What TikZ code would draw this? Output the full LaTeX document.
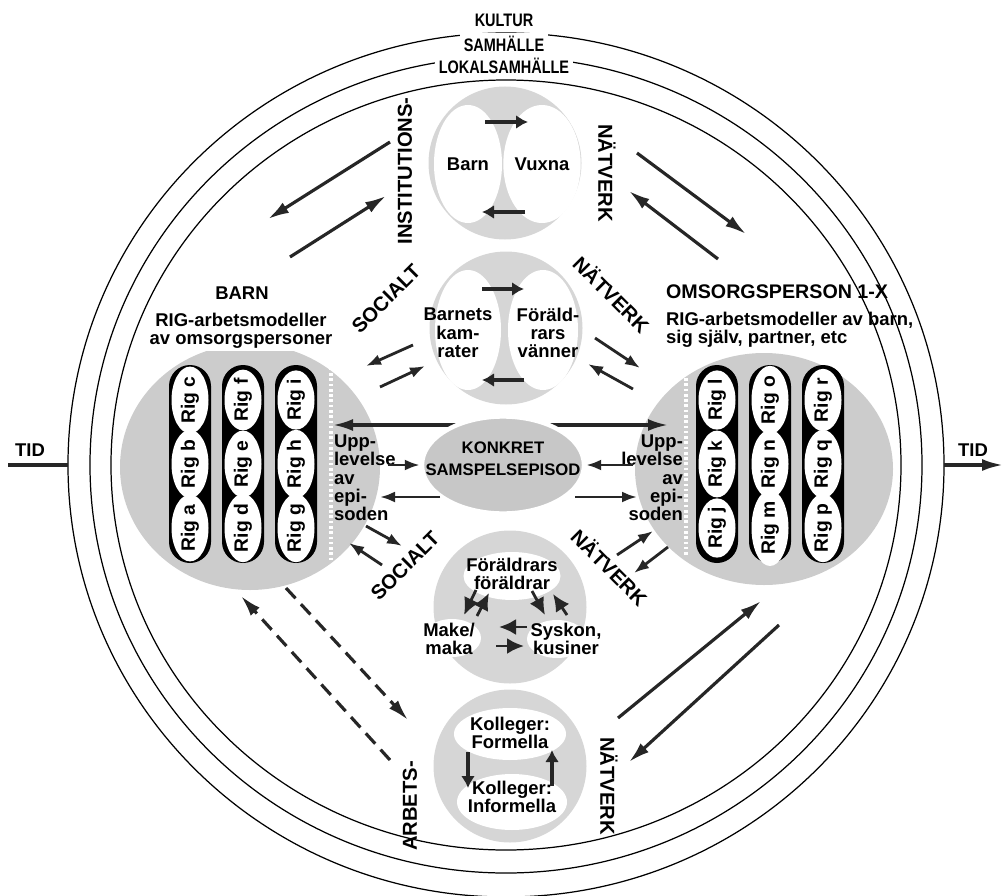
\documentclass[tikz,border=0pt]{standalone}
\usepackage{fontspec}
\setmainfont{Liberation Sans}
\newfontfamily\condfont[FakeStretch=0.8]{Liberation Sans}
\usetikzlibrary{arrows.meta,shapes.geometric}

\definecolor{discgray}{gray}{0.80}
\definecolor{ringgray}{gray}{0.84}
\definecolor{konkgray}{gray}{0.78}
\definecolor{arrowgray}{gray}{0.15}

\begin{document}
\begin{tikzpicture}[
  x=0.2mm, y=-0.2mm, inner sep=1pt,
  font=\bfseries\fontsize{10.5}{10.4}\selectfont,
  band/.style={draw, ellipse, line width=0.7pt, inner sep=0, outer sep=0},
  bigdisc/.style={ellipse, fill=discgray, inner sep=0},
  disc/.style={circle, fill=ringgray, inner sep=0, minimum size=30.6mm},
  hole/.style={ellipse, fill=white, inner sep=0},
  pill/.style={rectangle, rounded corners=4.2mm, fill=black, minimum width=8.4mm, minimum height=39.6mm, inner sep=0},
  rig/.style={ellipse, fill=white, rotate=90, minimum width=11.4mm, minimum height=7.4mm, inner sep=0, font=\bfseries\fontsize{11}{11}\selectfont},
  layer/.style={fill=white, inner sep=2pt, font=\condfont\bfseries\fontsize{10.3}{11}\selectfont},
  netlbl/.style={font=\bfseries\fontsize{11.5}{12}\selectfont},
  arr/.style={-{Latex[length=4.2mm,width=2.4mm]}, line width=1.8pt, draw=arrowgray},
  sarr/.style={-{Latex[length=3mm,width=2.2mm]}, line width=1.6pt, draw=arrowgray},
  dblarr/.style={arr, {Latex[length=4mm,width=2.4mm]}-{Latex[length=4mm,width=2.4mm]}},
  dasharr/.style={arr, dash pattern=on 2.8mm off 1.6mm},
  fat/.style={-{Latex[length=2.4mm,width=2.8mm]}, line width=2.6pt, draw=arrowgray},
  wedge/.style={-{Latex[length=3.4mm,width=3.2mm]}, line width=1.6pt, draw=arrowgray},
  dots/.style={draw=white, line width=2pt, dash pattern=on 1.5pt off 1.5pt}
]
\useasboundingbox (0,0) rectangle (1004,896);

% kultur, samhalle, lokalsamhalle
\node[band, minimum width=175.2mm, minimum height=172.8mm] (kultur) at (506,465) {};
\node[band, minimum width=166.4mm, minimum height=163.2mm] (samhalle) at (506,465) {};
\node[band, minimum width=158mm, minimum height=154mm] (lokal) at (506,465) {};
\node[layer] (kulturlbl) at (504,20) {KULTUR};
\node[layer] (samhallelbl) at (504,44) {SAMHÄLLE};
\node[layer] (lokallbl) at (504,66) {LOKALSAMHÄLLE};

% tid
\coordinate (tidstart) at (8,465);
\coordinate (tidend) at (1003,465);
\draw[line width=1.8pt, draw=arrowgray] (tidstart) -- (kultur.west);
\draw[arr] (kultur.east) -- (tidend);
\node (tidL) at (30,450) {TID};
\node (tidR) at (973,450) {TID};

% barn and omsorgsperson
\node[bigdisc, minimum width=52mm, minimum height=49.2mm] (barn) at (250,467) {};
\node[bigdisc, minimum width=51.6mm, minimum height=46.4mm] (omsorg) at (764,469) {};
\draw[dots] (331,352) -- (331,562);
\draw[dots] (686,357) -- (686,557);
\foreach \x/\a/\b/\c in {190/a/b/c, 243/d/e/f, 296/g/h/i, 717/j/k/l, 770/m/n/o, 823/p/q/r} {
  \node[pill] (col-\a) at (\x,464) {};
  \node[rig] (rig-\a) at (\x,528) {Rig \a};
  \node[rig] (rig-\b) at (\x,464) {Rig \b};
  \node[rig] (rig-\c) at (\x,400) {Rig \c};
}
\node (barnlbl) at (242,293) {BARN};
\node[fill=white, align=center] (barnrig) at (241,331) {RIG-arbetsmodeller\\av omsorgspersoner};
\node[anchor=west, font=\bfseries\fontsize{11.2}{11}\selectfont] (omsorglbl) at (664,292) {OMSORGSPERSON 1-X};
\node[anchor=west, align=left] (omsorgrig) at (664,330) {RIG-arbetsmodeller av barn,\\sig själv, partner, etc};
\node[anchor=west, align=left] (uppL) at (332,478) {Upp-\\levelse\\av\\epi-\\soden};
\node[anchor=east, align=right] (uppR) at (685,478) {Upp-\\levelse\\av\\epi-\\soden};

% barn - vuxna
\node[disc] (instit) at (505,163) {};
\node[hole, minimum width=13.6mm, minimum height=23.6mm] (barnhole) at (468,164) {Barn};
\node[hole, minimum width=14mm, minimum height=23.6mm] (vuxhole) at (542,164) {Vuxna};
\path (485,122) coordinate (bv-a) (528,122) coordinate (bv-b)
      (525,212) coordinate (bv-c) (482,212) coordinate (bv-d);
\draw[fat] (bv-a) -- (bv-b);
\draw[fat] (bv-c) -- (bv-d);

% kamrater - vanner
\node[disc] (kamrat) at (506,328) {};
\node[hole, minimum width=13.2mm, minimum height=24mm] (kamhole) at (468,330) {};
\node[hole, minimum width=14mm, minimum height=24mm] (vanhole) at (543,330) {};
\node[align=center] (kamtxt) at (458,333) {Barnets\\kam-\\rater};
\node[align=center] (vantxt) at (548,333) {Föräld-\\rars\\vänner};
\path (482,289) coordinate (kv-a) (524,289) coordinate (kv-b)
      (524,380) coordinate (kv-c) (482,380) coordinate (kv-d);
\draw[fat] (kv-a) -- (kv-b);
\draw[fat] (kv-c) -- (kv-d);

% konkret samspelsepisod
\path (333,425) coordinate (ep-l) (668,425) coordinate (ep-r);
\draw[dblarr] (ep-l) -- (ep-r);
\node[ellipse, fill=konkgray, draw=white, line width=2.5pt, minimum width=32.4mm, minimum height=19.4mm, inner sep=0] (episod) at (503,465) {};
\node[align=center, font=\bfseries\fontsize{9.5}{12.4}\selectfont] (episodtxt) at (503,459) {KONKRET\\SAMSPELSEPISOD};
\path (388,465) coordinate (ep-j) (633,465) coordinate (ep-k)
      (440,497) coordinate (ep-l1) (380,497) coordinate (ep-l2)
      (575,497) coordinate (ep-m1) (637,497) coordinate (ep-m2);
\draw[sarr] (ep-j) -- (episod.west);
\draw[sarr] (ep-k) -- (episod.east);
\draw[sarr] (ep-l1) -- (ep-l2);
\draw[sarr] (ep-m1) -- (ep-m2);

% slakt
\node[disc] (slakt) at (510,607) {};
\node[hole, minimum width=19.4mm, minimum height=9.6mm] (farhole) at (512,576) {};
\node[hole, minimum width=11.6mm, minimum height=7.6mm] (makehole) at (452,638) {};
\node[hole, minimum width=12mm, minimum height=7.6mm] (syskhole) at (557,639) {};
\node[align=center] (fartxt) at (512,574) {Föräldrars\\föräldrar};
\node[align=center] (maketxt) at (449,639) {Make/\\maka};
\node[align=center] (sysktxt) at (566,639) {Syskon,\\kusiner};
\path (476,590) coordinate (sl-a) (464,615) coordinate (sl-b)
      (477,616) coordinate (sl-c) (489,593) coordinate (sl-d)
      (532,591) coordinate (sl-e) (545,615) coordinate (sl-f)
      (567,615) coordinate (sl-g) (553,594) coordinate (sl-h)
      (527,627) coordinate (sl-i) (499,627) coordinate (sl-j)
      (496,646) coordinate (sl-k) (524,646) coordinate (sl-l);
\draw[wedge] (sl-a) -- (sl-b);
\draw[wedge] (sl-c) -- (sl-d);
\draw[wedge] (sl-e) -- (sl-f);
\draw[wedge] (sl-g) -- (sl-h);
\draw[wedge] (sl-i) -- (sl-j);
\draw[wedge] (sl-k) -- (sl-l);

% kolleger
\node[disc] (kolleg) at (510,766) {};
\node[hole, minimum width=22.4mm, minimum height=10.4mm] (formhole) at (510,734) {};
\node[hole, minimum width=22mm, minimum height=11.2mm] (inforhole) at (512,802) {};
\node[align=center] (formtxt) at (510,733) {Kolleger:\\Formella};
\node[align=center] (infortxt) at (512,797) {Kolleger:\\Informella};
\path (468,752) coordinate (ko-a) (468,788) coordinate (ko-b)
      (552,786) coordinate (ko-c) (552,750) coordinate (ko-d);
\draw[fat] (ko-a) -- (ko-b);
\draw[fat] (ko-c) -- (ko-d);

% network labels
\node[netlbl, rotate=90] (instlbl) at (405,171) {INSTITUTIONS-};
\node[netlbl, rotate=-90] (natv1) at (607,173) {NÄTVERK};
\node[netlbl, rotate=45] (soc1) at (386,299) {SOCIALT};
\node[netlbl, rotate=-45] (natv2) at (612,294) {NÄTVERK};
\node[netlbl, rotate=45] (soc2) at (405,566) {SOCIALT};
\node[netlbl, rotate=-45] (natv3) at (610,567) {NÄTVERK};
\node[netlbl, rotate=90] (arbets) at (410,806) {ARBETS-};
\node[netlbl, rotate=-90] (natv4) at (609,786) {NÄTVERK};

% arrows between the networks
\path (390,142) coordinate (in-a) (268,219) coordinate (in-b)
      (290,257) coordinate (in-c) (386,196) coordinate (in-d)
      (637,153) coordinate (nv-a) (746,234) coordinate (nv-b)
      (718,259) coordinate (nv-c) (629,191) coordinate (nv-d);
\draw[arr] (in-a) -- (in-b);
\draw[arr] (in-c) -- (in-d);
\draw[arr] (nv-a) -- (nv-b);
\draw[arr] (nv-c) -- (nv-d);

\path (413,345) coordinate (so-a) (366,366) coordinate (so-b)
      (380,387) coordinate (so-c) (425,366) coordinate (so-d)
      (595,338) coordinate (sn-a) (640,368) coordinate (sn-b)
      (633,389) coordinate (sn-c) (588,364) coordinate (sn-d);
\draw[sarr] (so-a) -- (so-b);
\draw[sarr] (so-c) -- (so-d);
\draw[sarr] (sn-a) -- (sn-b);
\draw[sarr] (sn-c) -- (sn-d);

\path (366,526) coordinate (su-a) (402,546) coordinate (su-b)
      (382,565) coordinate (su-c) (349,543) coordinate (su-d)
      (617,555) coordinate (nu-a) (653,531) coordinate (nu-b)
      (668,547) coordinate (nu-c) (634,573) coordinate (nu-d);
\draw[sarr] (su-a) -- (su-b);
\draw[sarr] (su-c) -- (su-d);
\draw[sarr] (nu-a) -- (nu-b);
\draw[sarr] (nu-c) -- (nu-d);

\path (390,760) coordinate (ar-a) (241,596) coordinate (ar-b)
      (286,588) coordinate (ar-c) (408,720) coordinate (ar-d)
      (618,718) coordinate (an-a) (761,601) coordinate (an-b)
      (779,625) coordinate (an-c) (629,762) coordinate (an-d);
\draw[dasharr] (ar-a) -- (ar-b);
\draw[dasharr] (ar-c) -- (ar-d);
\draw[arr] (an-a) -- (an-b);
\draw[arr] (an-c) -- (an-d);
\end{tikzpicture}
\end{document}
